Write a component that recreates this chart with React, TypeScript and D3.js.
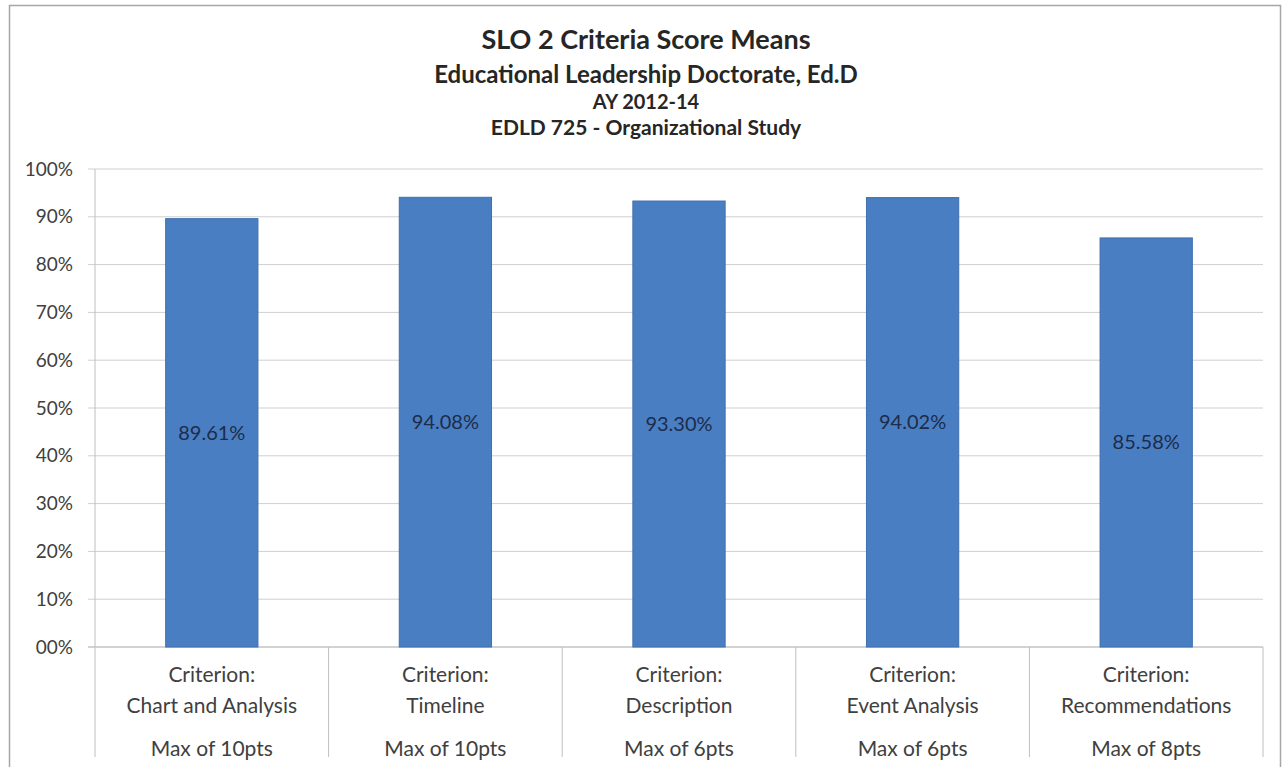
import React from "react";
import * as d3 from "d3";

const categories = ["Chart and Analysis", "Timeline", "Description", "Event Analysis", "Recommendations"];
const maxPoints = ["Max of 10pts", "Max of 10pts", "Max of 6pts", "Max of 6pts", "Max of 8pts"];
const values = [89.61, 94.08, 93.3, 94.02, 85.58];
const yTicks = [0, 10, 20, 30, 40, 50, 60, 70, 80, 90, 100];
const yTickLabels = ["00%", "10%", "20%", "30%", "40%", "50%", "60%", "70%", "80%", "90%", "100%"];
const titleLines = [
  "SLO 2 Criteria Score Means",
  "Educational Leadership Doctorate, Ed.D",
  "AY 2012-14",
  "EDLD 725 - Organizational Study",
];

const W = 1283;
const H = 767;
const plotLeft = 95;
const plotRight = 1263;
const plotTop = 169;
const plotBottom = 647;
const FONT = "Lato, 'Open Sans', sans-serif";

export default function App() {
  const x = d3.scaleBand<string>().domain(categories).range([plotLeft, plotRight]).paddingInner(0).paddingOuter(0);
  const y = d3.scaleLinear().domain([0, 100]).range([plotBottom, plotTop]);
  const barW = x.bandwidth() * 0.395;

  const titleY = [49, 83, 109, 135];
  const titleSize = [27, 24, 20, 21];

  return (
    <div style={{ position: "absolute", left: 0, top: 0 }}>
      <svg width={W} height={H} style={{ display: "block", background: "#fff" }}>
        <rect x={9.5} y={5.5} width={1271} height={770} fill="#fff" stroke="#a6a6a6" strokeWidth={1.5} />
        {titleLines.map((t, i) => (
          <text
            key={i}
            x={646}
            y={titleY[i]}
            textAnchor="middle"
            fontFamily={FONT}
            fontWeight="bold"
            fontSize={titleSize[i]}
            fill="#262626"
          >
            {t}
          </text>
        ))}
        {yTicks.map((t, i) => (
          <g key={t}>
            <line
              x1={plotLeft - 7}
              x2={plotRight}
              y1={y(t)}
              y2={y(t)}
              stroke={t === 0 ? "#a6a6a6" : "#cfcfcf"}
              strokeWidth={1}
            />
            <text
              x={73}
              y={y(t)}
              dy="0.35em"
              textAnchor="end"
              fontFamily={FONT}
              fontSize={19}
              fill="#404040"
            >
              {yTickLabels[i]}
            </text>
          </g>
        ))}
        <line x1={plotLeft} x2={plotLeft} y1={plotTop} y2={plotBottom} stroke="#bfbfbf" />
        {[...categories.map((c) => x(c) as number), plotRight].map((px, i) => (
          <line key={i} x1={px} x2={px} y1={plotBottom} y2={757} stroke="#bfbfbf" />
        ))}
        {categories.map((c, i) => {
          const cx = (x(c) as number) + x.bandwidth() / 2;
          return (
            <g key={c}>
              <rect
                x={cx - barW / 2}
                y={y(values[i])}
                width={barW}
                height={plotBottom - y(values[i])}
                fill="#4a7ec2"
                stroke="#3f6fae"
                strokeWidth={1}
              />
              <text
                x={cx}
                y={(y(values[i]) + plotBottom) / 2}
                dy="0.35em"
                textAnchor="middle"
                fontFamily={FONT}
                fontSize={20}
                fill="#1d2c4a"
              >
                {values[i].toFixed(2) + "%"}
              </text>
              <text x={cx} y={682} textAnchor="middle" fontFamily={FONT} fontSize={21} fill="#404040">
                Criterion:
              </text>
              <text x={cx} y={713} textAnchor="middle" fontFamily={FONT} fontSize={21} fill="#404040">
                {c}
              </text>
              <text x={cx} y={756} textAnchor="middle" fontFamily={FONT} fontSize={21} fill="#404040">
                {maxPoints[i]}
              </text>
            </g>
          );
        })}
      </svg>
    </div>
  );
}
